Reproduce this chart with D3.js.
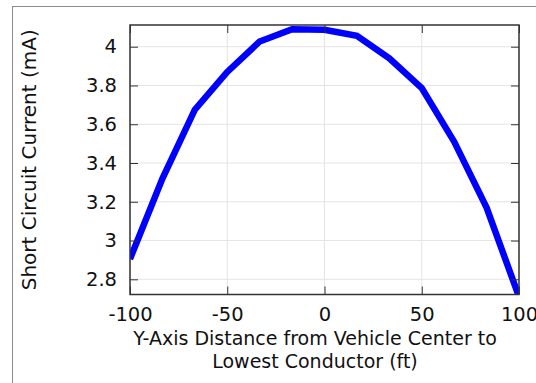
<!DOCTYPE html>
<html>
<head>
<meta charset="utf-8">
<script src="https://cdn.jsdelivr.net/npm/d3@7"></script>
<style>
html, body { margin: 0; padding: 0; background: #fff; }
svg { display: block; font-family: "DejaVu Sans", sans-serif; }
</style>
</head>
<body>
<svg id="chart" width="536" height="383"></svg>
<script>
const distances = [-100, -83.33, -66.67, -50, -33.33, -16.67, 0, 16.67, 33.33, 50, 66.67, 83.33, 100];
const currents = [2.905, 3.32, 3.675, 3.87, 4.027, 4.09, 4.087, 4.056, 3.94, 3.787, 3.51, 3.17, 2.71];
const xTicks = [-100, -50, 0, 50, 100];
const yTicks = [2.8, 3, 3.2, 3.4, 3.6, 3.8, 4];
const xTitle = ["Y-Axis Distance from Vehicle Center to", "Lowest Conductor (ft)"];
const yTitle = "Short Circuit Current (mA)";

const svg = d3.select("#chart");
const plot = { left: 130, right: 519, top: 25, bottom: 294.5 };
const FS = 19.5;

// outer frame
svg.append("rect").attr("x", 12.5).attr("y", 6.5).attr("width", 600).attr("height", 500)
  .attr("fill", "#fff").attr("stroke", "#8c8c8c").attr("stroke-width", 1);

const x = d3.scaleLinear().domain([-100, 100]).range([plot.left, plot.right]);
const y = d3.scaleLinear().domain([2.7216, 4.112]).range([plot.bottom, plot.top]);

// grid
const grid = svg.append("g");
grid.selectAll(".gx").data(xTicks).join("line")
  .attr("x1", d => x(d)).attr("x2", d => x(d)).attr("y1", plot.top).attr("y2", plot.bottom)
  .attr("stroke", "#e4e4e4").attr("stroke-width", 1);
grid.selectAll(".gy").data(yTicks).join("line")
  .attr("y1", d => y(d)).attr("y2", d => y(d)).attr("x1", plot.left).attr("x2", plot.right)
  .attr("stroke", "#e4e4e4").attr("stroke-width", 1);

// clip
svg.append("clipPath").attr("id", "clip").append("rect")
  .attr("x", plot.left).attr("y", plot.top).attr("width", plot.right - plot.left).attr("height", plot.bottom - plot.top);

const line = d3.line().x((d, i) => x(distances[i])).y(d => y(d));
svg.append("path").datum(currents).attr("d", line).attr("clip-path", "url(#clip)")
  .attr("fill", "none").attr("stroke", "#0000ff").attr("stroke-width", 6.5).attr("stroke-linejoin", "miter");

// axes with inward ticks
const tickLen = 8;
const axStyle = g => { g.select(".domain").remove(); g.selectAll(".tick line").attr("stroke", "#333"); g.selectAll("text").attr("fill", "#111").style("font-size", FS + "px").style("font-family", "DejaVu Sans"); };

svg.append("g").attr("transform", `translate(0,${plot.bottom})`)
  .call(d3.axisBottom(x).tickValues(xTicks).tickSize(-tickLen).tickPadding(13).tickFormat(d => String(d)))
  .call(axStyle);
svg.append("g").attr("transform", `translate(0,${plot.top})`)
  .call(d3.axisTop(x).tickValues(xTicks).tickSize(-tickLen).tickFormat(""))
  .call(axStyle);
svg.append("g").attr("transform", `translate(${plot.left},0)`)
  .call(d3.axisLeft(y).tickValues(yTicks).tickSize(-tickLen).tickPadding(13).tickFormat(d => String(+d.toFixed(1))))
  .call(axStyle);
svg.append("g").attr("transform", `translate(${plot.right},0)`)
  .call(d3.axisRight(y).tickValues(yTicks).tickSize(-tickLen).tickFormat(""))
  .call(axStyle);

// axis box
svg.append("rect").attr("x", plot.left).attr("y", plot.top).attr("width", plot.right - plot.left).attr("height", plot.bottom - plot.top)
  .attr("fill", "none").attr("stroke", "#333").attr("stroke-width", 1.5);

// titles
svg.append("text").attr("text-anchor", "middle").attr("font-size", 19).attr("fill", "#111")
  .selectAll("tspan").data(xTitle).join("tspan")
  .attr("x", 315).attr("y", (d, i) => 345 + i * 23).text(d => d);

svg.append("text").attr("text-anchor", "middle").attr("font-size", 20).attr("fill", "#111")
  .attr("transform", `translate(36,${(plot.top + plot.bottom) / 2}) rotate(-90)`).text(yTitle);
</script>
</body>
</html>
